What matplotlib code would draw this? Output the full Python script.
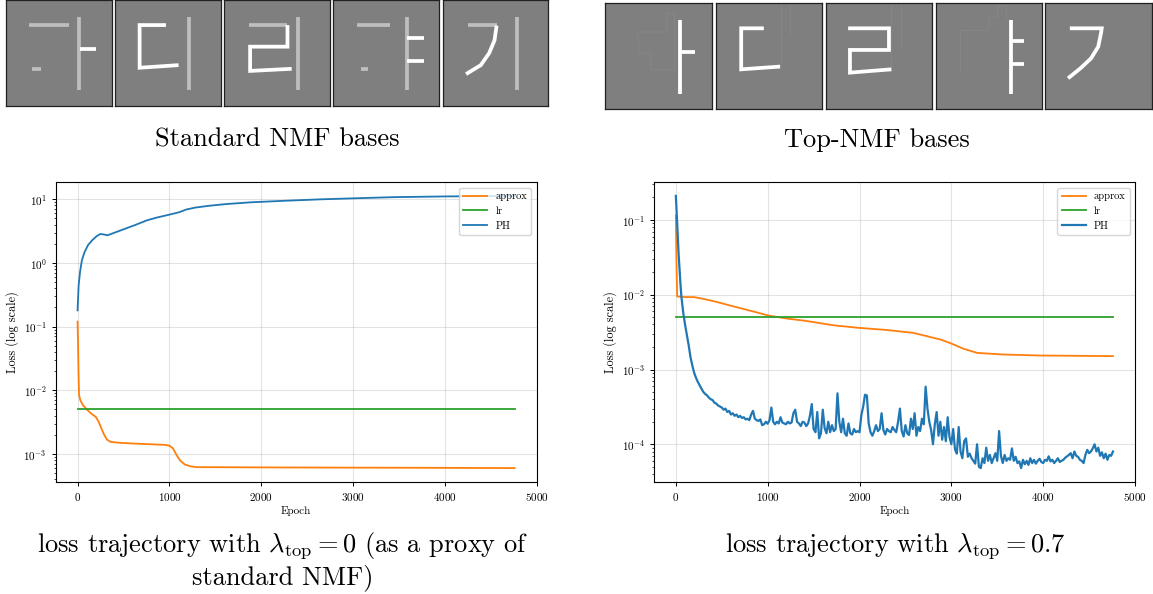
import numpy as np
import matplotlib
matplotlib.use("Agg")
import matplotlib.pyplot as plt

plt.rcParams['font.family'] = ['cmr10', 'DejaVu Serif']
plt.rcParams['mathtext.fontset'] = 'cm'
plt.rcParams['axes.formatter.use_mathtext'] = True

# ---------------- data: left chart (lambda_top = 0) ----------------
series_names = ["approx", "lr", "PH"]
series_colors = ["#ff7f0e", "#2ca02c", "#1f77b4"]

l_ph_epochs = [0, 12, 27, 47, 74, 113, 163, 210, 249, 288, 327, 405, 521, 638,
               755, 872, 1000, 1105, 1183, 1280, 1416, 1611, 1883, 2272, 2661,
               3050, 3440, 4023, 4760]
l_ph_values = [0.18, 0.45, 0.72, 1.1, 1.45, 1.9, 2.3, 2.65, 2.85, 2.8, 2.72, 3.0,
               3.46, 4.0, 4.67, 5.2, 5.74, 6.25, 6.9, 7.4, 7.86, 8.4, 8.96, 9.5,
               10.0, 10.4, 10.8, 11.1, 11.3]

l_approx_epochs = [0, 5, 10, 16, 30, 60, 100, 150, 200, 230, 260, 290, 320, 360,
                   450, 600, 800, 950, 1000, 1040, 1080, 1120, 1170, 1230, 1300,
                   1500, 2000, 3000, 4000, 4760]
l_approx_values = [0.12, 0.06, 0.02, 0.0085, 0.007, 0.0058, 0.005, 0.0043, 0.0038,
                   0.0032, 0.0025, 0.002, 0.00168, 0.00155, 0.0015, 0.00146,
                   0.00142, 0.00139, 0.00135, 0.00122, 0.00095, 0.00078, 0.00068,
                   0.00064, 0.00062, 0.00062, 0.000615, 0.00061, 0.000605, 0.0006]

lr_epochs = [0, 4760]
lr_values = [0.005, 0.005]

# ---------------- data: right chart (lambda_top = 0.7) ----------------
r_approx_epochs = [0, 6, 14, 100, 200, 300, 430, 625, 860, 1000, 1210, 1400, 1720,
                   2000, 2270, 2580, 2730, 2890, 3010, 3130, 3280, 3550, 3950, 4760]
r_approx_values = [0.115, 0.03, 0.0095, 0.0093, 0.0093, 0.0088, 0.0081, 0.0070,
                   0.0059, 0.0053, 0.0048, 0.0045, 0.0039, 0.0036, 0.0034, 0.0031,
                   0.0028, 0.0025, 0.0022, 0.0019, 0.00167, 0.00159, 0.00154, 0.00151]

r_ph_early_epochs = [0, 10, 20, 30, 40, 50, 60, 70, 80, 90, 100, 120, 140, 160, 180,
                     200, 220, 240, 260, 280]
r_ph_early_values = [0.21, 0.12, 0.065, 0.035, 0.022, 0.014, 0.0095, 0.0074, 0.0058,
                     0.0048, 0.0040, 0.0029, 0.0021, 0.00145, 0.00112, 0.0009,
                     0.00077, 0.00068, 0.00061, 0.00055]

# PH loss from epoch 300 to 4760, every 20 epochs, in units of 1e-4
r_ph_noisy_e4 = [
    5.0, 4.7, 4.5, 4.2, 4.0, 3.9, 3.6, 3.5, 3.3, 3.2,          # 300
    3.1, 2.9, 3.0, 2.7, 2.8, 2.5, 2.6, 2.4, 2.5, 2.3,          # 500
    2.4, 2.25, 2.3, 2.15, 2.2, 2.1, 2.5, 2.8, 2.2, 2.1,        # 700
    2.05, 2.15, 1.8, 1.85, 2.0, 1.88, 2.1, 3.1, 2.0, 1.85,     # 900
    2.0, 1.9, 2.3, 1.95, 1.9, 1.85, 2.0, 1.9, 1.95, 2.6,       # 1100
    2.9, 2.0, 1.9, 1.75, 2.0, 1.95, 1.75, 1.9, 2.4, 3.45,      # 1300
    1.6, 1.45, 2.7, 1.2, 1.4, 2.9, 1.65, 1.4, 2.0, 1.45,       # 1500
    1.8, 1.5, 1.6, 4.8, 2.0, 1.45, 2.2, 1.4, 1.3, 1.9,         # 1700
    1.4, 1.35, 1.6, 1.45, 1.5, 1.45, 2.46, 3.2, 4.6, 4.5,      # 1900
    1.9, 1.45, 1.3, 1.5, 1.8, 1.5, 1.6, 2.6, 1.55, 1.35,       # 2100
    1.6, 1.5, 1.45, 1.7, 1.55, 1.45, 2.0, 3.0, 1.5, 1.27,      # 2300
    1.8, 1.4, 1.33, 2.2, 1.6, 2.6, 1.3, 1.7, 1.5, 2.2,         # 2500
    1.85, 5.9, 3.0, 2.0, 1.55, 1.0, 1.85, 2.7, 1.3, 2.0,       # 2700
    1.15, 1.7, 1.1, 2.3, 1.25, 1.0, 1.6, 0.85, 0.75, 1.7,      # 2900
    0.8, 0.65, 1.1, 1.2, 0.68, 0.75, 0.65, 0.6, 0.55, 1.0,     # 3100
    0.5, 0.48, 0.65, 0.56, 0.9, 0.6, 0.72, 0.56, 0.65, 0.76,   # 3300
    0.6, 1.5, 0.7, 0.56, 0.72, 0.6, 0.65, 0.62, 0.88, 0.6,     # 3500
    0.68, 0.56, 0.59, 0.48, 0.62, 0.54, 0.6, 0.53, 0.65, 0.56, # 3700
    0.62, 0.55, 0.6, 0.64, 0.58, 0.56, 0.62, 0.6, 0.69, 0.59,  # 3900
    0.62, 0.56, 0.6, 0.65, 0.58, 0.6, 0.62, 0.66, 0.69, 0.72,  # 4100
    0.76, 0.65, 0.8, 0.7, 0.68, 0.62, 0.6, 0.56, 0.72, 0.84,   # 4300
    0.76, 0.8, 0.88, 1.0, 0.8, 0.9, 0.7, 0.78, 0.65, 0.75,     # 4500
    0.62, 0.72, 0.7, 0.8,                                      # 4700
]
r_ph_noisy_epochs = list(range(300, 4761, 20))

# ---------------- glyph strokes (u, v in box units, v from top) ----------------
LIGHT = "#bebebe"
WHITE = "#ffffff"
GHOST = "#858585"

std_ga = [(LIGHT, [(0.21, 0.235), (0.59, 0.235)]), (LIGHT, [(0.24, 0.65), (0.33, 0.65)]),
          (LIGHT, [(0.69, 0.16), (0.69, 0.85)]), (WHITE, [(0.70, 0.46), (0.85, 0.46)])]
std_di = [(WHITE, [(0.48, 0.235), (0.23, 0.235), (0.23, 0.64), (0.60, 0.615)]),
          (LIGHT, [(0.70, 0.16), (0.70, 0.85)])]
std_ri = [(LIGHT, [(0.23, 0.235), (0.60, 0.235)]),
          (WHITE, [(0.60, 0.235), (0.60, 0.44), (0.245, 0.44), (0.245, 0.67), (0.64, 0.65)]),
          (LIGHT, [(0.70, 0.16), (0.70, 0.85)])]
std_gya = [(LIGHT, [(0.23, 0.235), (0.54, 0.235)]), (LIGHT, [(0.26, 0.65), (0.33, 0.65)]),
           (LIGHT, [(0.70, 0.16), (0.70, 0.85)]), (WHITE, [(0.70, 0.36), (0.86, 0.36)]),
           (WHITE, [(0.70, 0.575), (0.86, 0.575)])]
std_gi = [(LIGHT, [(0.24, 0.235), (0.51, 0.235)]),
          (WHITE, [(0.51, 0.24), (0.49, 0.38), (0.44, 0.50), (0.36, 0.615), (0.22, 0.70)]),
          (LIGHT, [(0.70, 0.16), (0.70, 0.85)])]

top_a = [(GHOST, [(0.30, 0.27), (0.58, 0.27), (0.58, 0.094), (0.65, 0.094), (0.65, 0.63),
                  (0.43, 0.63), (0.43, 0.47), (0.32, 0.47), (0.30, 0.27)]),
         (WHITE, [(0.70, 0.16), (0.70, 0.855)]), (WHITE, [(0.70, 0.455), (0.84, 0.455)])]
top_d = [(GHOST, [(0.61, 0.0), (0.61, 0.60)]), (GHOST, [(0.70, 0.0), (0.70, 0.30)]),
         (WHITE, [(0.45, 0.236), (0.237, 0.236), (0.237, 0.623), (0.603, 0.597)])]
top_r = [(GHOST, [(0.62, 0.0), (0.62, 0.62)]), (GHOST, [(0.71, 0.0), (0.71, 0.45)]),
         (WHITE, [(0.213, 0.236), (0.597, 0.236), (0.597, 0.44), (0.23, 0.44),
                  (0.23, 0.654), (0.62, 0.623)])]
top_ya = [(GHOST, [(0.227, 0.645), (0.227, 0.25), (0.49, 0.25), (0.49, 0.126), (0.577, 0.126),
                   (0.577, 0.016), (0.66, 0.016), (0.66, 0.16)]),
          (WHITE, [(0.703, 0.16), (0.703, 0.855)]), (WHITE, [(0.703, 0.352), (0.833, 0.352)]),
          (WHITE, [(0.703, 0.572), (0.833, 0.572)])]
top_g = [(WHITE, [(0.23, 0.236), (0.53, 0.236), (0.523, 0.283), (0.497, 0.409), (0.43, 0.519),
                  (0.33, 0.613), (0.213, 0.708)])]

std_glyphs = [std_ga, std_di, std_ri, std_gya, std_gi]
top_glyphs = [top_a, top_d, top_r, top_ya, top_g]

# ---------------- figure ----------------
W, H = 1153, 594
fig = plt.figure(figsize=(W / 100, H / 100), dpi=100)


def px_axes(x0, y0, x1, y1):
    return fig.add_axes([x0 / W, 1 - y1 / H, (x1 - x0) / W, (y1 - y0) / H])


def draw_glyph(ax, strokes):
    ax.set_facecolor("#7f7f7f")
    ax.set_xlim(0, 1)
    ax.set_ylim(1, 0)
    ax.set_xticks([])
    ax.set_yticks([])
    for sp in ax.spines.values():
        sp.set_linewidth(0.9)
        sp.set_color("#202020")
    for color, pts in strokes:
        u = [p[0] for p in pts]
        v = [p[1] for p in pts]
        lw = 0.9 if color == GHOST else 2.7
        ax.plot(u, v, color=color, lw=lw, solid_capstyle="butt", solid_joinstyle="miter")


std_lefts = [6.4, 115.4, 224.3, 333.2, 442.9]
for x0, g in zip(std_lefts, std_glyphs):
    draw_glyph(px_axes(x0, 0.3, x0 + 105.3, 105.7), g)

top_lefts = [605.3, 716.0, 825.5, 935.8, 1045.4]
for x0, g in zip(top_lefts, top_glyphs):
    draw_glyph(px_axes(x0, 3.3, x0 + 106.3, 109.3), g)

CAP = 19
fig.text(277 / W, 1 - 146.5 / H, "Standard NMF bases", ha="center", va="baseline", fontsize=CAP)
fig.text(877 / W, 1 - 146.5 / H, "Top-NMF bases", ha="center", va="baseline", fontsize=CAP)
fig.text(283 / W, 1 - 552 / H, r"loss trajectory with $\lambda_{\mathrm{top}} = 0$ (as a proxy of",
         ha="center", va="baseline", fontsize=CAP)
fig.text(283 / W, 1 - 584 / H, "standard NMF)", ha="center", va="baseline", fontsize=CAP)
fig.text(895 / W, 1 - 552 / H, r"loss trajectory with $\lambda_{\mathrm{top}} = 0.7$",
         ha="center", va="baseline", fontsize=CAP)


def style_chart(ax):
    ax.set_yscale("log")
    ax.set_xticks([0, 1000, 2000, 3000, 4000, 5000])
    ax.grid(True, which="major", color="#b0b0b0", alpha=0.35, lw=0.8)
    ax.tick_params(labelsize=8, width=0.7, length=3)
    ax.tick_params(which="minor", width=0.5, length=1.8)
    for sp in ax.spines.values():
        sp.set_linewidth(0.8)
    ax.set_xlabel("Epoch", fontsize=8, labelpad=2)
    ax.set_ylabel("Loss (log scale)", fontsize=8.8)
    ax.yaxis.set_label_coords(-0.077, 0.5)
    ax.legend(loc="upper right", fontsize=7.5, handlelength=2.3)


LW = 1.3
axl = px_axes(55.7, 182.3, 536.7, 481.7)
axl.plot(l_approx_epochs, l_approx_values, color=series_colors[0], lw=LW, label=series_names[0])
axl.plot(lr_epochs, lr_values, color=series_colors[1], lw=LW, label=series_names[1])
axl.plot(l_ph_epochs, l_ph_values, color=series_colors[2], lw=LW, label=series_names[2])
style_chart(axl)

axr = px_axes(654, 182.3, 1135, 481.7)
r_ph_epochs = r_ph_early_epochs + r_ph_noisy_epochs
r_ph_values = r_ph_early_values + [v * 1e-4 for v in r_ph_noisy_e4]
axr.plot(r_approx_epochs, r_approx_values, color=series_colors[0], lw=LW, label=series_names[0])
axr.plot(lr_epochs, lr_values, color=series_colors[1], lw=LW, label=series_names[1])
axr.plot(r_ph_epochs, r_ph_values, color=series_colors[2], lw=1.6, label=series_names[2])
style_chart(axr)

fig.savefig("out.png", dpi=100)
